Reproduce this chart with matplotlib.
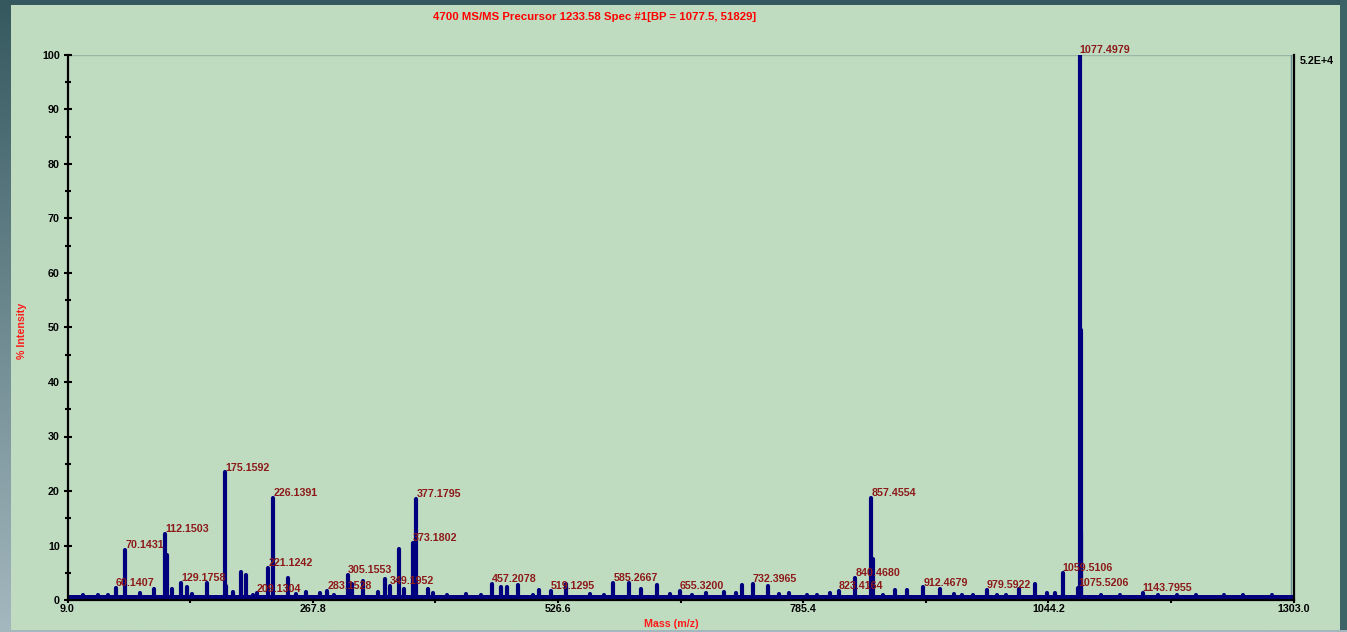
import numpy as np
import matplotlib
matplotlib.use("Agg")
import matplotlib.pyplot as plt
from matplotlib.patches import Rectangle
from matplotlib.colors import to_rgb

plt.rcParams["font.family"] = ["Liberation Sans", "DejaVu Sans"]
plt.rcParams["font.weight"] = "bold"

# ---- spectrum data -------------------------------------------------------
# annotated peaks: m/z and % intensity
label_mz = [60.1407, 70.1431, 112.1503, 129.1758, 175.1592, 209.1304, 221.1242,
            226.1391, 283.1528, 305.1553, 349.1952, 373.1802, 377.1795, 457.2078,
            519.1295, 585.2667, 655.3200, 732.3965, 823.4164, 840.4680, 857.4554,
            912.4679, 979.5922, 1059.5106, 1075.5206, 1077.4979, 1143.7955]
label_int = [2.2, 9.2, 12.2, 3.2, 23.4, 1.2, 5.8,
             18.7, 1.7, 4.6, 2.5, 10.4, 18.5, 2.9,
             1.7, 3.2, 1.6, 2.9, 1.6, 4.1, 18.7,
             2.3, 1.8, 4.9, 2.2, 100.0, 1.3]

# unannotated peaks
other_mz = [41.0, 85.7, 100.0, 114.4, 119.0, 134.9, 156.0, 176.5, 184.0, 191.8,
            197.0, 242.0, 260.8, 275.0, 309.7, 320.7, 336.2, 344.0, 359.0, 364.3,
            389.0, 395.0, 466.7, 473.0, 484.0, 507.0, 535.0, 601.2, 614.2, 631.1,
            683.2, 701.5, 714.1, 720.5, 748.3, 770.1, 814.1, 859.2, 882.8, 895.1,
            929.5, 953.2, 1013.0, 1030.6, 1042.9, 1051.7, 1078.3, 1079.0]
other_int = [1.0, 1.2, 2.1, 8.3, 2.1, 2.3, 3.1, 2.6, 1.5, 5.1,
             4.5, 4.0, 1.5, 1.3, 2.9, 3.5, 1.5, 3.8, 9.3, 2.0,
             2.0, 1.3, 2.3, 2.3, 2.8, 1.9, 3.0, 3.2, 2.0, 2.7,
             1.2, 1.5, 1.2, 2.7, 2.5, 1.2, 1.3, 7.6, 1.8, 1.8,
             2.0, 1.0, 2.0, 3.0, 1.3, 1.2, 49.5, 12.3]

# low-level noise bumps along the baseline
noise_mz = [25.0, 52.0, 140.0, 205.0, 250.0, 290.0, 410.0, 430.0, 445.0, 500.0,
            560.0, 575.0, 645.0, 668.0, 760.0, 790.0, 800.0, 870.0, 945.0, 965.0,
            990.0, 1000.0, 1100.0, 1120.0, 1160.0, 1180.0, 1200.0, 1230.0, 1250.0, 1280.0]
noise_int = [0.9, 1.0, 1.1, 1.0, 1.1, 1.0, 1.0, 1.1, 1.0, 1.0,
             1.1, 1.0, 1.1, 1.0, 1.1, 1.0, 0.9, 1.0, 1.1, 1.0,
             0.9, 1.0, 1.0, 0.9, 1.0, 0.9, 1.0, 0.9, 1.0, 0.9]

x_ticks = [9.0, 267.8, 526.6, 785.4, 1044.2, 1303.0]
x_minor = [138.4, 397.2, 656.0, 914.8, 1173.6]
y_ticks = list(range(0, 101, 10))
y_minor = list(range(5, 100, 10))

title = "4700 MS/MS Precursor 1233.58 Spec #1[BP = 1077.5, 51829]"
scale_text = "5.2E+4"

# ---- figure & background ---------------------------------------------------
W, H = 1347, 632
fig = plt.figure(figsize=(W / 100, H / 100), dpi=100)

bg = fig.add_axes([0, 0, 1, 1], zorder=-10)
bg.set_xlim(0, W)
bg.set_ylim(H, 0)
bg.axis("off")
top_c = np.array(to_rgb("#35585f"))
bot_c = np.array(to_rgb("#a4b8bf"))
t = np.linspace(0, 1, 256)[:, None, None]
grad = top_c[None, None, :] * (1 - t) + bot_c[None, None, :] * t
bg.imshow(grad, extent=[0, W, H, 0], aspect="auto", interpolation="bilinear")
bg.add_patch(Rectangle((1340, 0), W - 1340, 630, color="#3d6367", lw=0))
bg.add_patch(Rectangle((11, 5), 1329, 625, color="#c0dcc0", lw=0))

# ---- main axes -------------------------------------------------------------
x0, x1 = 67.5, 1293.5
yb, yt = 600.0, 55.0
ax = fig.add_axes([x0 / W, 1 - yb / H, (x1 - x0) / W, (yb - yt) / H])
ax.set_facecolor("none")
ax.set_xlim(9.0, 1303.0)
ax.set_ylim(0, 100)

navy = "#00007f"
# baseline band
ax.plot([9.0, 1303.0], [0.55, 0.55], color=navy, lw=3.6, solid_capstyle="butt", zorder=3)
# peaks
for mzs, ints in ((noise_mz, noise_int), (other_mz, other_int), (label_mz, label_int)):
    ax.vlines(mzs, 0, ints, color=navy, lw=3.0, capstyle="round", zorder=3)

# peak annotations
for mz, val in zip(label_mz, label_int):
    ax.annotate(f"{mz:.4f}", xy=(mz, val), xytext=(0, 1.4), textcoords="offset points",
                ha="left", va="baseline", fontsize=7.7, fontweight="bold",
                color="#8c1a1a", zorder=5)

# reference lines: full-scale line and right frame
ax.axhline(100, color="#9cb6a6", lw=1.0, zorder=1)
ax.axvline(1300.7, color="#6d8f8f", lw=1.0, zorder=1)

ax.spines["top"].set_visible(False)
for s in ("left", "bottom", "right"):
    ax.spines[s].set_color("black")
    ax.spines[s].set_linewidth(1.6)
    ax.spines[s].set_zorder(4)

ax.set_xticks(x_ticks)
ax.set_xticklabels([f"{v:.1f}" for v in x_ticks])
ax.set_xticks(x_minor, minor=True)
ax.set_yticks(y_ticks)
ax.set_yticklabels([str(v) for v in y_ticks])
ax.set_yticks(y_minor, minor=True)

ax.tick_params(axis="y", which="major", direction="inout", length=6, width=1.5,
               labelsize=7.7, pad=2.5, colors="black")
ax.tick_params(axis="y", which="minor", direction="inout", length=4, width=1.5)
ax.tick_params(axis="x", which="major", direction="out", length=2.5, width=1.5,
               labelsize=7.7, pad=0.5, colors="black")
ax.tick_params(axis="x", which="minor", direction="out", length=2.5, width=1.5)
for lab in ax.get_xticklabels() + ax.get_yticklabels():
    lab.set_fontweight("bold")

# ---- texts -----------------------------------------------------------------
fig.text(595 / W, 1 - 17 / H, title, ha="center", va="center", color="#ff0000",
         fontsize=8.2, fontweight="bold")
fig.text(22 / W, 1 - 331 / H, "% Intensity", rotation=90, ha="center", va="center",
         color="#ff1a1a", fontsize=7.7, fontweight="bold")
fig.text(671 / W, 1 - 624 / H, "Mass (m/z)", ha="center", va="center",
         color="#ff1a1a", fontsize=7.7, fontweight="bold")
fig.text(1300 / W, 1 - 61 / H, scale_text, ha="left", va="center", color="black",
         fontsize=7.7, fontweight="bold")

fig.savefig("out.png", dpi=100)
